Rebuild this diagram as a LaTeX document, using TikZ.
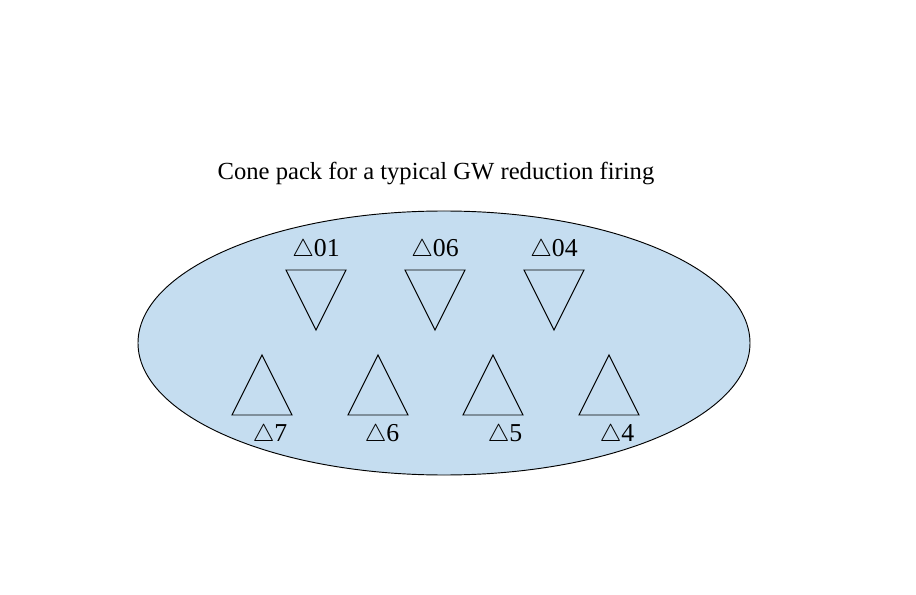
\documentclass[tikz,border=0pt]{standalone}
\usepackage{fontspec}
\setmainfont{Liberation Serif}
\usetikzlibrary{positioning}
\definecolor{packblue}{RGB}{197,221,240}
\tikzstyle{pack} = [draw, fill=packblue, line width=0.8pt]
\tikzstyle{cone} = [draw, line width=0.8pt]
\tikzstyle{tag} = [font=\fontsize{22}{24}\selectfont, inner sep=0pt]

\begin{document}
\begin{tikzpicture}[x=0.03cm, y=-0.03cm]
  \useasboundingbox (0,0) rectangle (916,595);
  % title
  \node[tag] (title) at (436,173) {\fontsize{21}{24}\selectfont Cone pack for a typical GW reduction firing};

  % pack
  \draw[pack] (444,343) ellipse (306 and 132);

  % top row
  \foreach \x/\n in {316/01, 435/06, 554/04} {
    \draw[cone] (\x-30,270) -- (\x+30,270) -- (\x,330) -- cycle;
    \node[tag] (top\n) at (\x,250) {$\triangle$\n};
  }

  % bottom row
  \foreach \x/\l/\n in {262/270/7, 378/382/6, 493/505/5, 609/617/4} {
    \draw[cone] (\x-30,415) -- (\x+30,415) -- (\x,355) -- cycle;
    \node[tag] (bot\n) at (\l,435) {$\triangle$\n};
  }
\end{tikzpicture}
\end{document}
